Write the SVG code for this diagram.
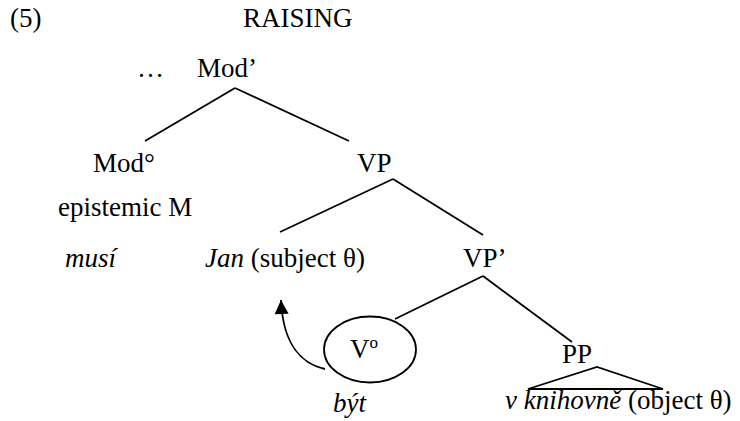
<svg xmlns="http://www.w3.org/2000/svg" width="740" height="421" viewBox="0 0 740 421">
<style>
  text { font-family: "Liberation Serif", "Times New Roman", serif; font-size: 27px; fill: #000; }
  .it { font-style: italic; }
  .ln { stroke: #000; stroke-width: 1.8; fill: none; }
</style>
<defs>
  <marker id="arr" viewBox="0 0 10 10" refX="10" refY="5" markerWidth="15" markerHeight="14" markerUnits="userSpaceOnUse" orient="auto">
    <path d="M0,0 L10,5 L0,10 z" fill="#000"/>
  </marker>
</defs>
<rect width="740" height="421" fill="#fff"/>
<g id="label-num"><text x="10" y="27">(5)</text></g>
<g id="title"><text x="243" y="27">RAISING</text></g>
<g id="node-modbar"><text x="137" y="77">…</text><text x="197" y="77">Mod’</text></g>
<g id="node-mod0"><text x="93" y="172">Mod°</text><text x="58" y="216">epistemic M</text><text class="it" x="65" y="267">musí</text></g>
<g id="node-vp"><text x="357" y="172">VP</text></g>
<g id="node-jan"><text x="205" y="267"><tspan class="it">Jan</tspan> (subject θ)</text></g>
<g id="node-vpbar"><text x="463" y="267">VP’</text></g>
<g id="node-v0"><ellipse class="ln" cx="370" cy="349.5" rx="46" ry="33"/><text x="350" y="358">V<tspan font-size="17" dy="-10">o</tspan></text><text class="it" x="333" y="412">být</text></g>
<g id="node-pp"><text x="562" y="363">PP</text><path class="ln" d="M528,389 L597,367 L663,389 Z"/><text x="505" y="409"><tspan class="it">v knihovně</tspan> (object θ)</text></g>
<g id="connectors">
  <line class="ln" x1="235" y1="88" x2="145" y2="141"/>
  <line class="ln" x1="235" y1="88" x2="349" y2="141"/>
  <line class="ln" x1="393" y1="179" x2="280" y2="232"/>
  <line class="ln" x1="393" y1="179" x2="483" y2="235"/>
  <line class="ln" x1="483" y1="276" x2="395" y2="319"/>
  <line class="ln" x1="483" y1="276" x2="572" y2="342"/>
  <path class="ln" d="M325,369 C302,364 283,345 281,300" marker-end="url(#arr)"/>
</g>
</svg>
